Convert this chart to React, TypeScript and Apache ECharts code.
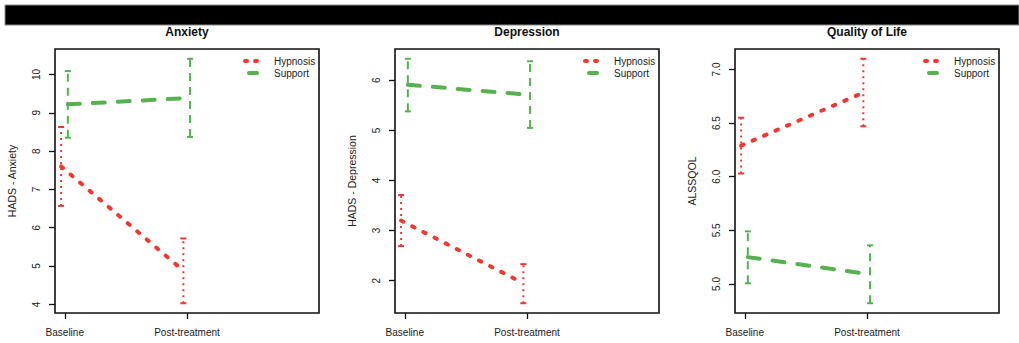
import React, { useEffect, useRef } from "react";
import * as echarts from "echarts";

// ---- data ----
const categories = ["Baseline", "Post-treatment"];
const panelTitles = ["Anxiety", "Depression", "Quality of Life"];
const yAxisNames = ["HADS - Anxiety", "HADS - Depression", "ALSSQOL"];
const seriesNames = ["Hypnosis", "Support"];

const anxietyHypnosisMean = [7.6, 4.88];
const anxietyHypnosisLow = [6.57, 4.03];
const anxietyHypnosisHigh = [8.63, 5.72];
const anxietySupportMean = [9.22, 9.39];
const anxietySupportLow = [8.35, 8.37];
const anxietySupportHigh = [10.09, 10.41];

const depressionHypnosisMean = [3.2, 1.95];
const depressionHypnosisLow = [2.69, 1.55];
const depressionHypnosisHigh = [3.71, 2.33];
const depressionSupportMean = [5.91, 5.71];
const depressionSupportLow = [5.38, 5.05];
const depressionSupportHigh = [6.43, 6.38];

const qolHypnosisMean = [6.29, 6.785];
const qolHypnosisLow = [6.03, 6.47];
const qolHypnosisHigh = [6.55, 7.1];
const qolSupportMean = [5.25, 5.09];
const qolSupportLow = [5.006, 4.82];
const qolSupportHigh = [5.49, 5.36];

const anxietyTicks = [4, 5, 6, 7, 8, 9, 10];
const depressionTicks = [2, 3, 4, 5, 6];
const qolTicks = [5.0, 5.5, 6.0, 6.5, 7.0];

const xPositions = [1, 2];
const xLimits = [1, 3];
const groupOffsets = [-0.03, 0.025];

// ---- styles ----
const RED = "#F2382E";
const GREEN = "#55B24E";
const FONT = "'Liberation Sans', Arial, Helvetica, sans-serif";
const GRID_LEFTS = [55, 395, 735];
const GRID_TOP = 49;
const GRID_SIZE = 264;

const panels = [
  {
    ticks: anxietyTicks,
    digits: 0,
    groups: [
      { mean: anxietyHypnosisMean, low: anxietyHypnosisLow, high: anxietyHypnosisHigh },
      { mean: anxietySupportMean, low: anxietySupportLow, high: anxietySupportHigh },
    ],
  },
  {
    ticks: depressionTicks,
    digits: 0,
    groups: [
      { mean: depressionHypnosisMean, low: depressionHypnosisLow, high: depressionHypnosisHigh },
      { mean: depressionSupportMean, low: depressionSupportLow, high: depressionSupportHigh },
    ],
  },
  {
    ticks: qolTicks,
    digits: 1,
    groups: [
      { mean: qolHypnosisMean, low: qolHypnosisLow, high: qolHypnosisHigh },
      { mean: qolSupportMean, low: qolSupportLow, high: qolSupportHigh },
    ],
  },
];

const lineStyles = [
  { color: RED, width: 4, type: [2.5, 10], cap: "round" },
  { color: GREEN, width: 4, type: [12, 13], cap: "round" },
];
const legendLineStyles = [
  { color: RED, width: 4, type: [2, 8], dashOffset: -2, cap: "round" },
  { color: GREEN, width: 4, type: [8, 30], dashOffset: -6, cap: "round" },
];
const barDash = [
  [2, 4],
  [8, 6],
];

function extend(lo: number, hi: number) {
  const d = (hi - lo) * 0.04;
  return [lo - d, hi + d];
}

export default function App() {
  const ref = useRef<HTMLDivElement>(null);

  useEffect(() => {
    if (!ref.current) return;
    const chart = echarts.init(ref.current, null, { renderer: "svg" });

    const xRange = extend(xLimits[0], xLimits[1]);
    const grids: any[] = [];
    const xAxes: any[] = [];
    const yAxes: any[] = [];
    const series: any[] = [];
    const titles: any[] = [];
    const legends: any[] = [];

    panels.forEach((p, i) => {
      const all: number[] = [];
      p.groups.forEach((g) => all.push(...g.low, ...g.high));
      const yRange = extend(Math.min(...all), Math.max(...all));

      grids.push({
        left: GRID_LEFTS[i],
        top: GRID_TOP,
        width: GRID_SIZE,
        height: GRID_SIZE,
        show: true,
        borderColor: "#111",
        borderWidth: 1.6,
        backgroundColor: "transparent",
      });
      xAxes.push({
        type: "value",
        gridIndex: i,
        min: xRange[0],
        max: xRange[1],
        axisLine: { show: false },
        splitLine: { show: false },
        axisTick: { show: true, customValues: xPositions, length: 6, lineStyle: { color: "#111", width: 1.3 } },
        axisLabel: {
          show: true,
          customValues: xPositions,
          margin: 14,
          fontSize: 10,
          fontFamily: FONT,
          color: "#222",
          formatter: (v: number) => categories[xPositions.indexOf(Math.round(v))] ?? "",
        },
      });
      yAxes.push({
        type: "value",
        gridIndex: i,
        min: yRange[0],
        max: yRange[1],
        name: yAxisNames[i],
        nameLocation: "middle",
        nameGap: 38,
        nameTextStyle: { fontSize: 10.5, fontFamily: FONT, color: "#222" },
        axisLine: { show: false },
        splitLine: { show: false },
        axisTick: { show: true, customValues: p.ticks, length: 6, lineStyle: { color: "#111", width: 1.3 } },
        axisLabel: {
          show: true,
          customValues: p.ticks,
          rotate: 90,
          margin: 14,
          fontSize: 10,
          fontFamily: FONT,
          color: "#222",
          formatter: (v: number) => v.toFixed(p.digits),
        },
      });
      titles.push({
        text: panelTitles[i],
        left: GRID_LEFTS[i] + GRID_SIZE / 2,
        top: 26,
        textAlign: "center",
        padding: 0,
        textStyle: { fontSize: 12, fontWeight: "bold", fontFamily: FONT, color: "#111" },
      });
      legends.push({
        orient: "vertical",
        left: GRID_LEFTS[i] + 186,
        top: 56,
        padding: 0,
        itemWidth: 20,
        itemHeight: 10,
        itemGap: 2,
        selectedMode: false,
        textStyle: { fontSize: 10, fontFamily: FONT, color: "#222", padding: [0, 0, 0, 6] },
        data: seriesNames.map((n, k) => ({
          name: n,
          itemStyle: { opacity: 0, color: "transparent", borderColor: "transparent", borderWidth: 0 },
          lineStyle: legendLineStyles[k],
        })),
      });

      p.groups.forEach((g, k) => {
        const xs = xPositions.map((x) => x + groupOffsets[k]);
        series.push({
          type: "line",
          name: seriesNames[k],
          xAxisIndex: i,
          yAxisIndex: i,
          symbol: "none",
          data: xs.map((x, j) => [x, g.mean[j]]),
          lineStyle: lineStyles[k],
          itemStyle: { color: lineStyles[k].color },
          z: 3,
        });
        series.push({
          type: "custom",
          name: seriesNames[k] + " CI",
          xAxisIndex: i,
          yAxisIndex: i,
          data: xs.map((x, j) => [x, g.low[j], g.high[j]]),
          encode: { x: 0, y: [1, 2] },
          z: 2,
          renderItem: (params: any, api: any) => {
            const x = api.value(0);
            const a = api.coord([x, api.value(1)]);
            const b = api.coord([x, api.value(2)]);
            const cap = 3;
            const base = { stroke: lineStyles[k].color, lineWidth: 2, fill: null };
            return {
              type: "group",
              children: [
                { type: "line", shape: { x1: a[0], y1: a[1], x2: b[0], y2: b[1] }, style: { ...base, lineDash: barDash[k] } },
                { type: "line", shape: { x1: a[0] - cap, y1: a[1], x2: a[0] + cap, y2: a[1] }, style: base },
                { type: "line", shape: { x1: b[0] - cap, y1: b[1], x2: b[0] + cap, y2: b[1] }, style: base },
              ],
            };
          },
        });
      });
    });

    chart.setOption({
      animation: false,
      backgroundColor: "#fff",
      textStyle: { fontFamily: FONT },
      title: titles,
      legend: legends,
      grid: grids,
      xAxis: xAxes,
      yAxis: yAxes,
      series,
      graphic: [
        {
          type: "rect",
          shape: { x: 5, y: 5, width: 1014, height: 20 },
          style: { fill: "#000", stroke: "#888", lineWidth: 1 },
          z: 100,
        },
      ],
    });

    return () => chart.dispose();
  }, []);

  return (
    <div
      ref={ref}
      style={{ position: "absolute", left: 0, top: 0, width: 1019, height: 343, background: "#fff" }}
    />
  );
}
